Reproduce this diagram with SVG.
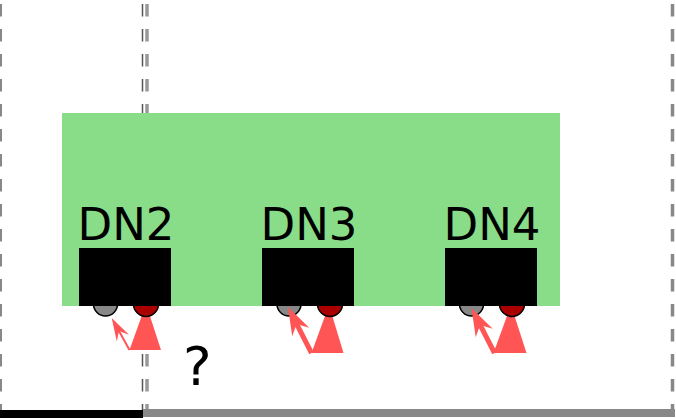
<svg xmlns="http://www.w3.org/2000/svg" width="676" height="418" viewBox="0 0 676 418">
<style>
.lbl{font-family:"DejaVu Sans",sans-serif;font-size:45px;fill:#000}
.dash{stroke-dasharray:12.5 12.5;fill:none}
.blk{fill:#000}
.gc{fill:#888;stroke:#000;stroke-width:1.5}
.rc{fill:#aa0000;stroke:#000;stroke-width:1.5}
.tri{fill:#ff5555}
.shaft{stroke:#ff5555;fill:none}
.head{fill:#ff5555}
</style>
<rect width="676" height="418" fill="#fff"/>
<g id="boundaries">
<line class="dash" x1="1" y1="4" x2="1" y2="410" stroke="#888" stroke-width="2"/>
<line class="dash" x1="142.5" y1="4" x2="142.5" y2="410" stroke="#555" stroke-width="1.5"/>
<line class="dash" x1="147" y1="4" x2="147" y2="410" stroke="#999" stroke-width="3.5"/>
<line class="dash" x1="672.5" y1="4" x2="672.5" y2="410" stroke="#888" stroke-width="3.5"/>
<rect x="0" y="410" width="143" height="8" fill="#000"/>
<rect x="143" y="409" width="532" height="8" fill="#888"/>
</g>
<g id="cluster">
<rect x="62" y="113" width="498" height="193" fill="#89dd89"/>
</g>
<g id="DN2">
<polygon class="tri" points="146,304 129.5,350 161,350"/>
<circle class="gc" cx="105.5" cy="304" r="12"/>
<circle class="rc" cx="146" cy="304" r="12.5"/>
<rect class="blk" x="79" y="248" width="92" height="58"/>
<text class="lbl" x="77.5" y="240">DN2</text>
</g>
<g id="DN3">
<polygon class="tri" points="329,305 311.5,353 343.5,353"/>
<circle class="gc" cx="289" cy="304" r="12"/>
<circle class="rc" cx="330" cy="304" r="12.5"/>
<rect class="blk" x="262" y="248" width="92" height="58"/>
<text class="lbl" x="260.5" y="240">DN3</text>
</g>
<g id="DN4">
<polygon class="tri" points="511,305 493.5,353 526.5,353"/>
<circle class="gc" cx="471.5" cy="304" r="12"/>
<circle class="rc" cx="512" cy="304" r="12.5"/>
<rect class="blk" x="445" y="248" width="92" height="58"/>
<text class="lbl" x="443.5" y="240">DN4</text>
</g>
<g id="connectors">
<line class="shaft" x1="129.5" y1="350" x2="119" y2="331.1" stroke-width="2"/>
<polygon class="head" points="111.7,318 129,334.7 119,331.1 116.8,341.5"/>
<line class="shaft" x1="311.5" y1="353" x2="296.6" y2="323.9" stroke-width="5"/>
<polygon class="head" points="288,307 309.2,327.7 296.6,323.9 292.2,336.3"/>
<line class="shaft" x1="494.5" y1="353" x2="480.1" y2="324.9" stroke-width="5"/>
<polygon class="head" points="471.5,308 492.7,328.7 480.1,324.9 475.7,337.3"/>
</g>
<text x="183" y="385" font-family="DejaVu Sans, sans-serif" font-size="54" fill="#000">?</text>
</svg>
